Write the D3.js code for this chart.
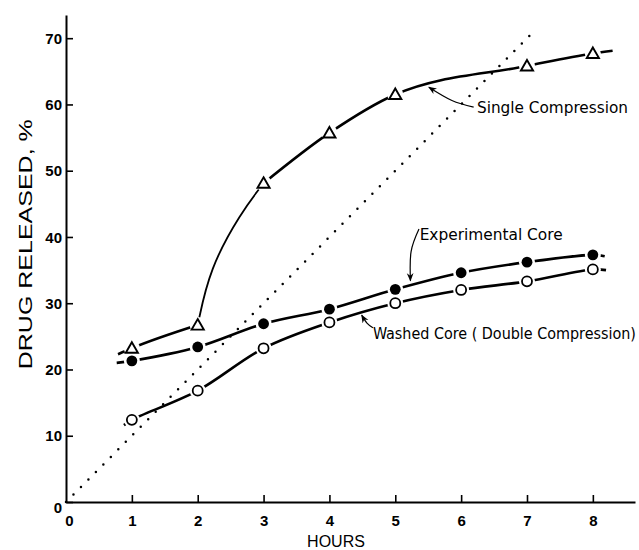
<!DOCTYPE html>
<html>
<head>
<meta charset="utf-8">
<script src="https://cdn.jsdelivr.net/npm/d3@7"></script>
<style>
  html, body { margin: 0; padding: 0; background: #fff; }
  svg { display: block; }
</style>
</head>
<body>
<svg id="chart" width="639" height="550"></svg>
<script>
// ---- data ----
const hoursTicks = [0, 1, 2, 3, 4, 5, 6, 7, 8];
const releaseTicks = [0, 10, 20, 30, 40, 50, 60, 70];

const singleHours = [1, 2, 3, 4, 5, 7, 8];
const singleValues = [23.2, 26.7, 48.1, 55.7, 61.5, 65.8, 67.7];
const singleStart = [0.79, 22.3];
const singleEnd = [8.3, 68.1];

const experimentalHours = [1, 2, 3, 4, 5, 6, 7, 8];
const experimentalValues = [21.3, 23.4, 26.9, 29.1, 32.1, 34.6, 36.2, 37.3];
const experimentalStart = [0.77, 21.0];
const experimentalEnd = [8.18, 37.1];

const washedHours = [1, 2, 3, 4, 5, 6, 7, 8];
const washedValues = [12.4, 16.8, 23.2, 27.1, 30.0, 32.0, 33.3, 35.1];
const washedStart = [0.88, 11.6];
const washedEnd = [8.2, 35.0];

const zeroOrderLine = [[0, 0], [7.1, 71]];

const labelSingle = "Single Compression";
const labelExperimental = "Experimental Core";
const labelWashed = "Washed Core ( Double Compression)";

// ---- setup ----
const svg = d3.select("#chart");
const x = d3.scaleLinear().domain([0, 8.64]).range([66, 635]);
const y = d3.scaleLinear().domain([0, 73.5]).range([502, 15]);

const tickFont = "'Liberation Sans', Arial, sans-serif";
const annFont = "'Liberation Sans Narrow', 'DejaVu Sans Condensed', 'Liberation Sans', sans-serif";

// dotted zero-order line
svg.append("path")
  .datum(zeroOrderLine)
  .attr("d", d3.line().x(d => x(d[0])).y(d => y(d[1])))
  .attr("fill", "none")
  .attr("stroke", "#000")
  .attr("stroke-width", 2.5)
  .attr("stroke-linecap", "round")
  .attr("stroke-dasharray", "0 10.6");

// axes
const yAxis = d3.axisLeft(y).tickValues(releaseTicks).tickSizeInner(-7).tickSizeOuter(0).tickPadding(4);
const gy = svg.append("g").attr("transform", `translate(${x(0)},0)`).call(yAxis);
gy.select(".domain").attr("stroke-width", 2);
gy.selectAll(".tick line").attr("stroke-width", 1.6);
gy.selectAll(".tick text")
  .attr("font-family", tickFont).attr("font-size", 15).attr("font-weight", "bold").attr("fill", "#000")
  .attr("dy", d => d === 0 ? "0.68em" : "0.34em");

const xAxis = d3.axisBottom(x).tickValues(hoursTicks).tickSizeInner(-7).tickSizeOuter(0).tickPadding(13);
const gx = svg.append("g").attr("transform", `translate(0,${y(0)})`).call(xAxis);
gx.select(".domain").attr("stroke-width", 2);
gx.selectAll(".tick line").attr("stroke-width", 1.6);
gx.selectAll(".tick text")
  .attr("font-family", tickFont).attr("font-size", 15).attr("font-weight", "bold").attr("fill", "#000")
  .attr("dx", d => d === 0 ? "3" : "0");
gx.selectAll(".tick").filter(d => d === 0).select("line").remove();

// axis titles
svg.append("text")
  .attr("x", (x(4.1)))
  .attr("y", 547)
  .attr("text-anchor", "middle")
  .attr("font-family", tickFont)
  .attr("font-size", 16)
  .text("HOURS");

svg.append("text")
  .attr("transform", `translate(32,${y(38.9)}) rotate(-90)`)
  .attr("text-anchor", "middle")
  .attr("font-family", tickFont)
  .attr("font-size", 18)
  .attr("textLength", 250)
  .attr("lengthAdjust", "spacingAndGlyphs")
  .text("DRUG RELEASED, %");

// curves
const line = d3.line().x(d => x(d[0])).y(d => y(d[1])).curve(d3.curveMonotoneX);
const smooth = d3.line().x(d => x(d[0])).y(d => y(d[1])).curve(d3.curveCatmullRom.alpha(0.5));
function pts(hours, values) { return hours.map((h, i) => [h, values[i]]); }

const singlePts = pts(singleHours, singleValues);
const expPts = pts(experimentalHours, experimentalValues);
const washPts = pts(washedHours, washedValues);

// single compression: gentle segment to hour 2, then a kinked steep rise
svg.append("path").datum([singleStart, singlePts[0], singlePts[1]])
  .attr("d", line).attr("fill", "none").attr("stroke", "#000").attr("stroke-width", 2.6);
svg.append("path")
  .attr("d", d3.line().x(d => x(d[0])).y(d => y(d[1])).curve(d3.curveBasis)(
    [singlePts[1], [singlePts[1][0] + 0.18, singlePts[1][1] + 8.5], [singlePts[2][0] - 0.35, singlePts[2][1] - 4.5], singlePts[2]]))
  .attr("fill", "none").attr("stroke", "#000").attr("stroke-width", 1.8);
svg.append("path").datum([...singlePts.slice(2), singleEnd])
  .attr("d", line).attr("fill", "none").attr("stroke", "#000").attr("stroke-width", 2.6);

svg.append("path").datum([experimentalStart, ...expPts, experimentalEnd])
  .attr("d", smooth).attr("fill", "none").attr("stroke", "#000").attr("stroke-width", 2.6);
svg.append("path").datum([washedStart, ...washPts, washedEnd])
  .attr("d", smooth).attr("fill", "none").attr("stroke", "#000").attr("stroke-width", 2.6);

// markers with white gaps
function gaps(data, r) {
  svg.append("g").selectAll("circle").data(data).join("circle")
    .attr("cx", d => x(d[0])).attr("cy", d => y(d[1])).attr("r", r).attr("fill", "#fff");
}
gaps(singlePts, 8);
gaps(expPts, 8);
gaps(washPts, 8);

const tri = d3.symbol().type(d3.symbolTriangle).size(64);
svg.append("g").selectAll("path").data(singlePts).join("path")
  .attr("transform", d => `translate(${x(d[0])},${y(d[1]) + 1})`)
  .attr("d", tri).attr("fill", "#fff").attr("stroke", "#000").attr("stroke-width", 1.9);

svg.append("g").selectAll("circle").data(expPts).join("circle")
  .attr("cx", d => x(d[0])).attr("cy", d => y(d[1])).attr("r", 5.4)
  .attr("fill", "#000");

svg.append("g").selectAll("circle").data(washPts).join("circle")
  .attr("cx", d => x(d[0])).attr("cy", d => y(d[1])).attr("r", 5)
  .attr("fill", "#fff").attr("stroke", "#000").attr("stroke-width", 1.8);

// annotation arrows
svg.append("defs").append("marker")
  .attr("id", "ah").attr("viewBox", "0 0 10 10").attr("refX", 9).attr("refY", 5)
  .attr("markerWidth", 7).attr("markerHeight", 7).attr("orient", "auto")
  .append("path").attr("d", "M0,1 L10,5 L0,9 L3,5 Z").attr("fill", "#000");

const arrowLine = d3.line().x(d => x(d[0])).y(d => y(d[1])).curve(d3.curveNatural);
const arrows = [
  [[6.19, 59.6], [5.86, 60.6], [5.51, 62.6]],
  [[5.36, 41.2], [5.24, 37.8], [5.23, 33.4]],
  [[4.66, 26.3], [4.57, 27.0], [4.49, 28.2]]
];
svg.append("g").selectAll("path").data(arrows).join("path")
  .attr("d", arrowLine).attr("fill", "none").attr("stroke", "#000").attr("stroke-width", 1.2)
  .attr("marker-end", "url(#ah)");

// annotation labels
const anns = [
  { text: labelSingle, at: [6.24, 58.7], len: 151 },
  { text: labelExperimental, at: [5.37, 39.6], len: 143 },
  { text: labelWashed, at: [4.66, 24.6], len: 263 }
];
svg.append("g").selectAll("text").data(anns).join("text")
  .attr("x", d => x(d.at[0])).attr("y", d => y(d.at[1]))
  .attr("font-family", annFont).attr("font-size", 16)
  .attr("textLength", d => d.len).attr("lengthAdjust", "spacingAndGlyphs")
  .attr("fill", "#000")
  .text(d => d.text);
</script>
</body>
</html>
